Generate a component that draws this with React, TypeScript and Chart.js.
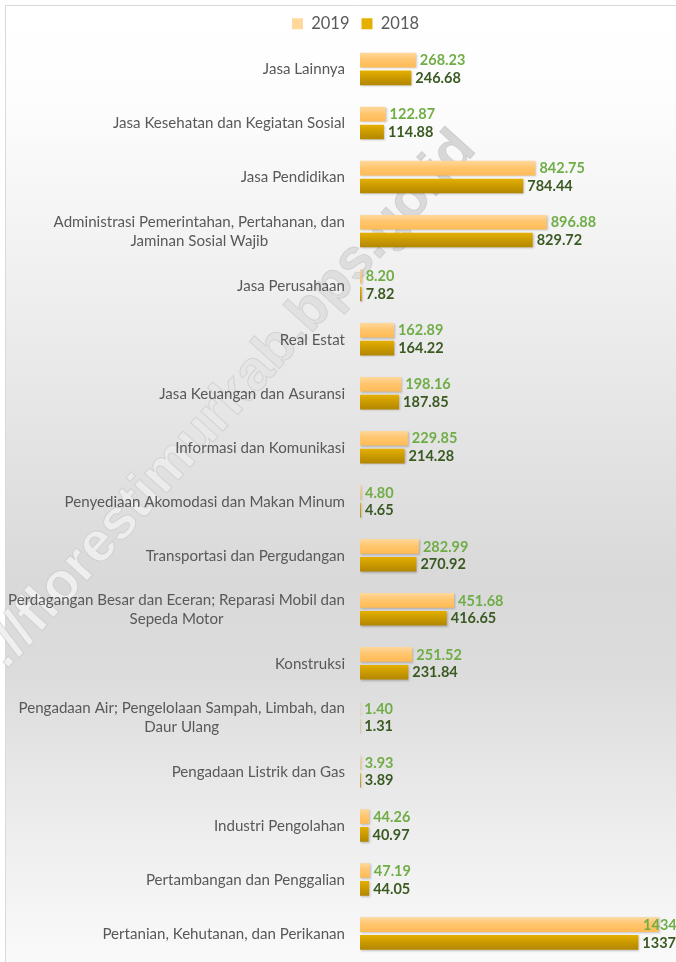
import React, { useEffect, useRef } from 'react';
import { Chart, registerables } from 'chart.js';

Chart.register(...registerables);

const categories: (string | string[])[] = [
  'Jasa Lainnya',
  'Jasa Kesehatan dan Kegiatan Sosial',
  'Jasa Pendidikan',
  ['Administrasi Pemerintahan, Pertahanan, dan', 'Jaminan Sosial Wajib'],
  'Jasa Perusahaan',
  'Real Estat',
  'Jasa Keuangan dan Asuransi',
  'Informasi dan Komunikasi',
  'Penyediaan Akomodasi dan Makan Minum',
  'Transportasi dan Pergudangan',
  ['Perdagangan Besar dan Eceran; Reparasi Mobil dan', 'Sepeda Motor'],
  'Konstruksi',
  ['Pengadaan Air; Pengelolaan Sampah, Limbah, dan', 'Daur Ulang'],
  'Pengadaan Listrik dan Gas',
  'Industri Pengolahan',
  'Pertambangan dan Penggalian',
  'Pertanian, Kehutanan, dan Perikanan',
];

const seriesNames = ['2019', '2018'];
const values2019 = [268.23, 122.87, 842.75, 896.88, 8.2, 162.89, 198.16, 229.85, 4.8, 282.99, 451.68, 251.52, 1.4, 3.93, 44.26, 47.19, 1434.6];
const values2018 = [246.68, 114.88, 784.44, 829.72, 7.82, 164.22, 187.85, 214.28, 4.65, 270.92, 416.65, 231.84, 1.31, 3.89, 40.97, 44.05, 1337.5];

const xMax = 1600;

const FONT = "Lato, 'Open Sans', sans-serif";
const CANVAS_W = 711;
const CANVAS_H = 962;
const CAT_PCT = 0.66;
const BAR_PCT = 0.82;

const solid = ['#FFC46B', '#D09E00'];
const gradStops = [
  ['#FFD89C', '#FFC66F', '#FFBB55'],
  ['#E6B000', '#CC9C00', '#B38700'],
];

function barColor(ds: number) {
  return (c: any) => {
    const chart = c.chart;
    const ys = chart.scales && chart.scales.y;
    if (c.type !== 'data' || !ys || !chart.chartArea) return solid[ds];
    const center = ys.getPixelForValue(c.dataIndex);
    const band = (ys.bottom - ys.top) / categories.length;
    const slot = (band * CAT_PCT) / 2;
    const thick = slot * BAR_PCT;
    const bc = center + (ds === 0 ? -slot / 2 : slot / 2);
    const g = chart.ctx.createLinearGradient(0, bc - thick / 2, 0, bc + thick / 2);
    g.addColorStop(0, gradStops[ds][0]);
    g.addColorStop(0.45, gradStops[ds][1]);
    g.addColorStop(1, gradStops[ds][2]);
    return g;
  };
}

const decorPlugin = {
  id: 'decor',
  beforeDraw(chart: any) {
    const ctx = chart.ctx;
    const W = chart.width;
    const H = chart.height;
    ctx.save();
    const bg = ctx.createLinearGradient(0, 5, 0, H);
    bg.addColorStop(0, '#ffffff');
    bg.addColorStop(0.1, '#fdfdfd');
    bg.addColorStop(0.35, '#ebebeb');
    bg.addColorStop(0.6, '#d9d9d9');
    bg.addColorStop(0.7, '#dcdcdc');
    bg.addColorStop(0.86, '#ededed');
    bg.addColorStop(1, '#fafafa');
    ctx.fillStyle = bg;
    ctx.fillRect(5, 5, W - 5, H - 5);
    ctx.strokeStyle = '#d9d9d9';
    ctx.lineWidth = 1;
    ctx.beginPath();
    ctx.moveTo(5.5, H);
    ctx.lineTo(5.5, 5.5);
    ctx.lineTo(W, 5.5);
    ctx.stroke();
    // watermark
    ctx.translate(466, 140);
    ctx.rotate((-47.8 * Math.PI) / 180);
    ctx.font = "bold 56px 'Liberation Sans', Arial, sans-serif";
    const text = 'http://florestimurkab.bps.go.id';
    const tw = ctx.measureText(text).width;
    const wg = ctx.createLinearGradient(-tw, 0, 0, 0);
    wg.addColorStop(0, '#f2f2f2');
    wg.addColorStop(0.45, '#ececec');
    wg.addColorStop(0.75, '#dfdfdf');
    wg.addColorStop(1, '#d6d6d6');
    ctx.fillStyle = wg;
    ctx.textAlign = 'right';
    ctx.textBaseline = 'middle';
    ctx.fillText(text, 0, 0);
    ctx.strokeStyle = 'rgba(175,175,175,0.35)';
    ctx.lineWidth = 1;
    ctx.strokeText(text, 0, 0);
    ctx.restore();
  },
  beforeDatasetsDraw(chart: any) {
    const ctx = chart.ctx;
    ctx.save();
    ctx.shadowColor = 'rgba(0,0,0,0.22)';
    ctx.shadowOffsetX = 1;
    ctx.shadowOffsetY = 1;
    ctx.shadowBlur = 2;
  },
  afterDatasetsDraw(chart: any) {
    const ctx = chart.ctx;
    ctx.restore();
    ctx.save();
    ctx.textBaseline = 'middle';
    ctx.textAlign = 'left';
    const limit = 697;
    const sets = [values2019, values2018];
    const colors = ['#70AD47', '#3A5A22'];
    const weights = ['bold', 'bold'];
    sets.forEach((vals, di) => {
      const meta = chart.getDatasetMeta(di);
      ctx.font = `${weights[di]} 14.5px ${FONT}`;
      ctx.fillStyle = colors[di];
      meta.data.forEach((el: any, i: number) => {
        const txt = vals[i].toFixed(2);
        const w = ctx.measureText(txt).width;
        let x = el.x + 4;
        if (x + w > limit) x = limit - w;
        ctx.fillText(txt, x, el.y + 0.5);
      });
    });
    // category labels
    const ys = chart.scales.y;
    ctx.font = `15.1px ${FONT}`;
    ctx.fillStyle = '#595959';
    ctx.textAlign = 'center';
    const right = ys.right - 15;
    const lh = 18.5;
    categories.forEach((lab, i) => {
      const lines = Array.isArray(lab) ? lab : [lab];
      const cy = ys.getPixelForValue(i);
      const maxW = Math.max(...lines.map((l) => ctx.measureText(l).width));
      lines.forEach((l, k) => {
        const y = cy + (k - (lines.length - 1) / 2) * lh;
        ctx.fillText(l, right - maxW / 2, y + 0.5);
      });
    });
    ctx.restore();
  },
};

export default function App() {
  const ref = useRef<HTMLCanvasElement | null>(null);
  useEffect(() => {
    if (!ref.current) return;
    const chart = new Chart(ref.current, {
      type: 'bar',
      data: {
        labels: categories as any,
        datasets: [
          {
            label: seriesNames[0],
            data: values2019,
            backgroundColor: barColor(0) as any,
            categoryPercentage: CAT_PCT,
            barPercentage: BAR_PCT,
            borderWidth: 0,
          },
          {
            label: seriesNames[1],
            data: values2018,
            backgroundColor: barColor(1) as any,
            categoryPercentage: CAT_PCT,
            barPercentage: BAR_PCT,
            borderWidth: 0,
          },
        ],
      },
      options: {
        indexAxis: 'y',
        animation: false,
        responsive: false,
        devicePixelRatio: 1,
        layout: { padding: { top: 3.5, right: 18, bottom: 1.5, left: 18 } },
        plugins: {
          legend: {
            position: 'top',
            labels: {
              boxWidth: 11,
              boxHeight: 11,
              padding: 12,
              color: '#595959',
              font: { family: FONT, size: 16.5 },
            },
          },
          tooltip: { enabled: false },
        },
        scales: {
          x: {
            display: false,
            min: 0,
            max: xMax,
          },
          y: {
            grid: { display: false },
            border: { display: false },
            ticks: { display: false },
            afterFit: (s: any) => {
              s.width = 342;
            },
          },
        },
      },
      plugins: [decorPlugin],
    });
    return () => chart.destroy();
  }, []);
  return (
    <div style={{ position: 'fixed', left: 0, top: 0, width: 676, height: 962, overflow: 'hidden', background: '#fff' }}>
      <canvas ref={ref} width={CANVAS_W} height={CANVAS_H} style={{ display: 'block', width: CANVAS_W, height: CANVAS_H }} />
    </div>
  );
}
